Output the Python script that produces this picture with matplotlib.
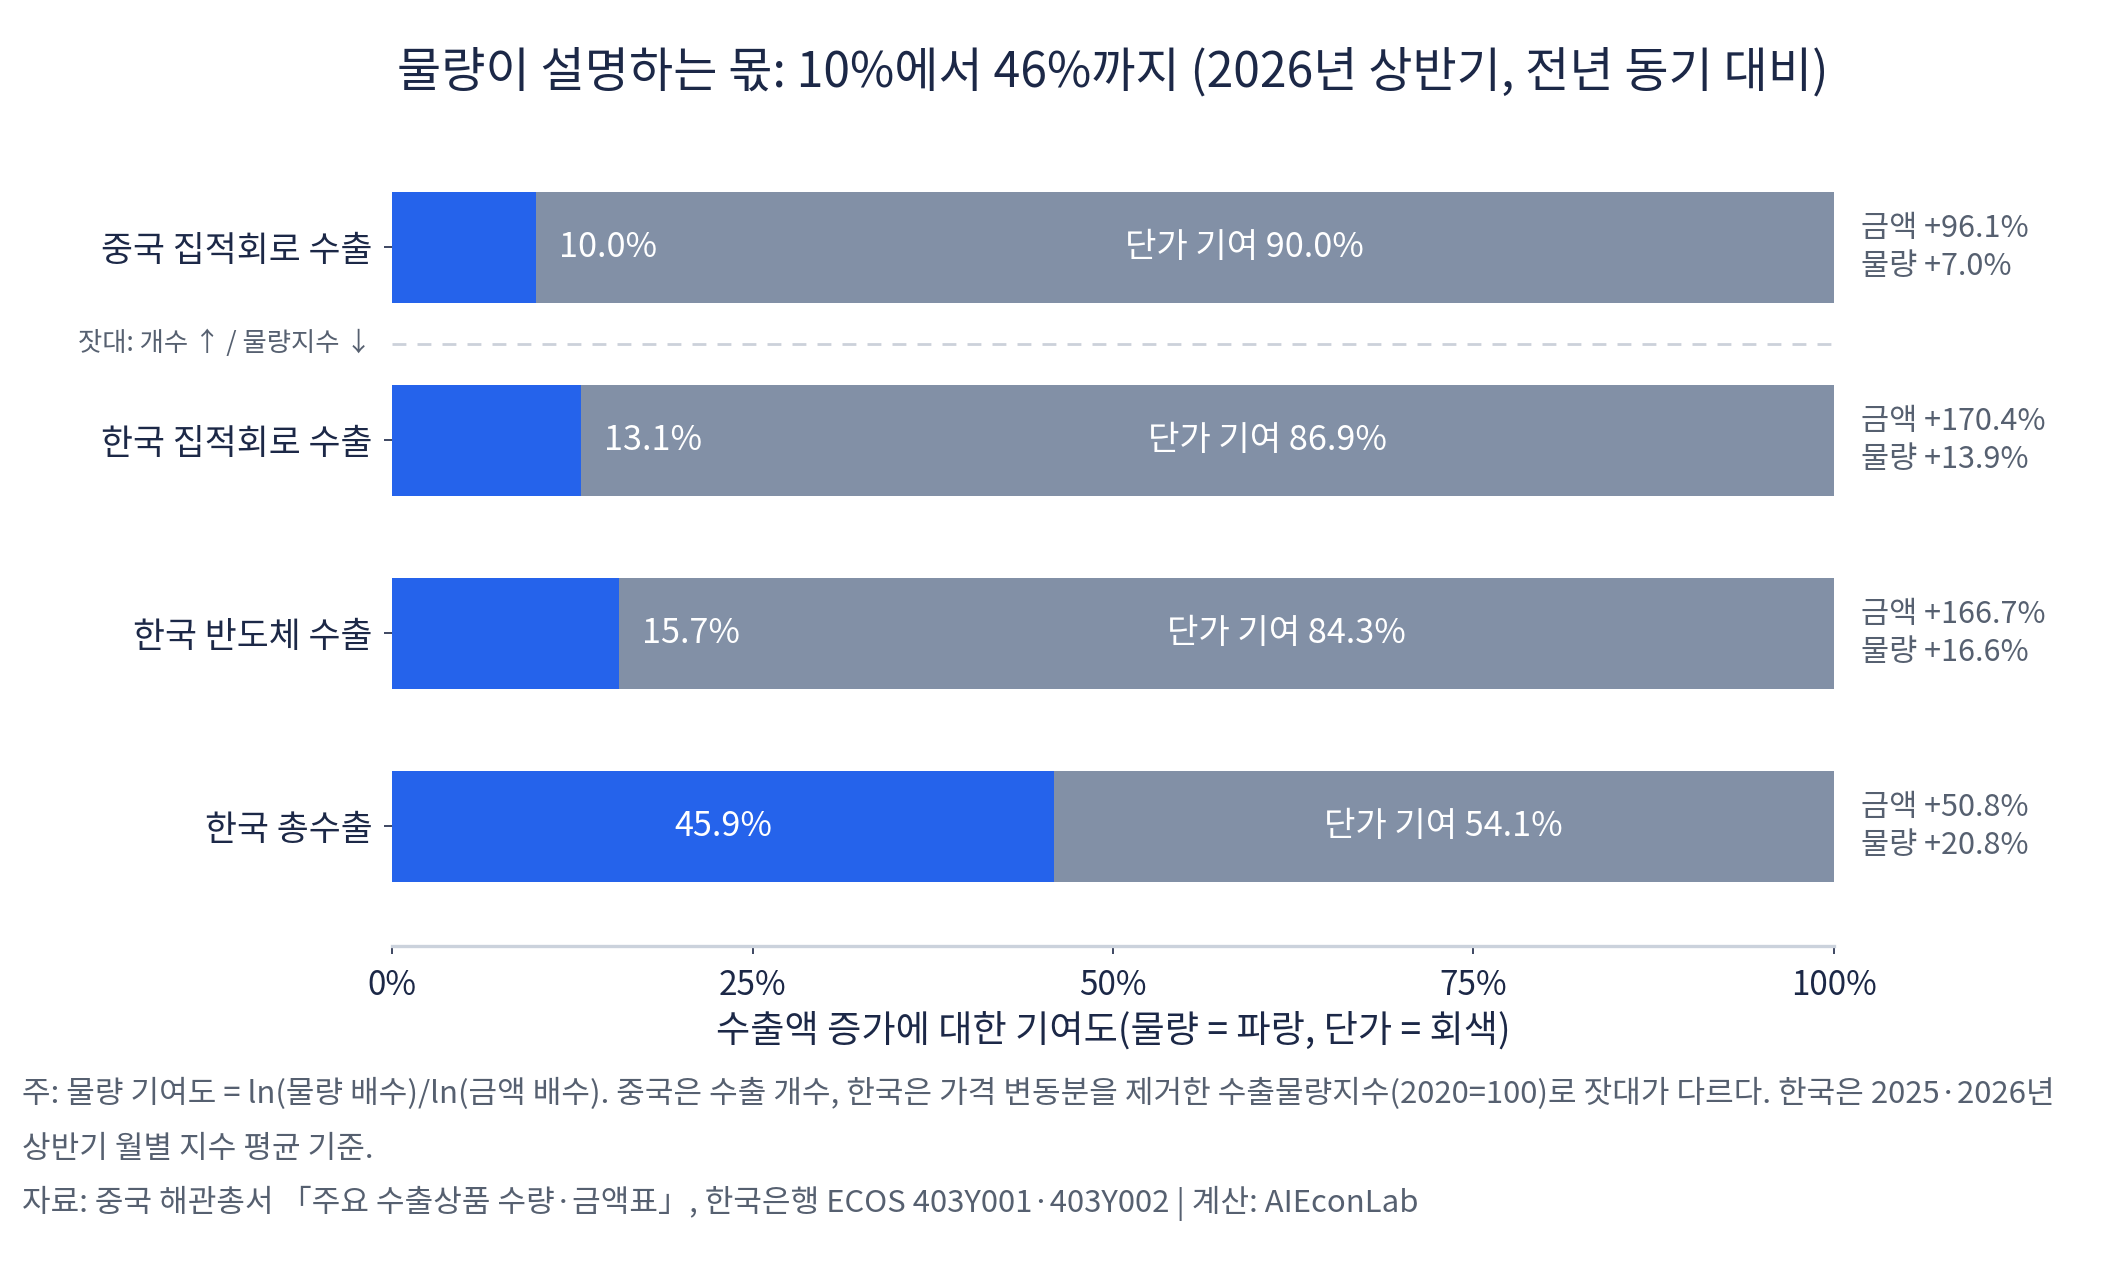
import numpy as np
import matplotlib
matplotlib.use("Agg")
import matplotlib.pyplot as plt
from matplotlib.ticker import FuncFormatter

plt.rcParams["font.family"] = ["Noto Sans CJK KR", "DejaVu Sans"]

# data
categories = ["중국 집적회로 수출", "한국 집적회로 수출", "한국 반도체 수출", "한국 총수출"]
volume_share = [10.0, 13.1, 15.7, 45.9]     # 물량 기여도 (%)
price_share = [90.0, 86.9, 84.3, 54.1]      # 단가 기여도 (%)
value_growth = [96.1, 170.4, 166.7, 50.8]   # 금액 증가율 (%)
volume_growth = [7.0, 13.9, 16.6, 20.8]     # 물량 증가율 (%)
x_ticks = [0, 25, 50, 75, 100]

BLUE = "#2563eb"
GREY = "#8290a6"
NAVY = "#1c2847"
MUTED = "#566070"

fig = plt.figure(figsize=(10.6, 6.4), dpi=200)
ax = fig.add_axes([0.185, 0.261, 0.68, 0.639])

y = np.arange(len(categories))
h = 0.575
ax.barh(y, volume_share, height=h, color=BLUE, zorder=2)
ax.barh(y, price_share, left=volume_share, height=h, color=GREY, zorder=2)

for i, (v, p) in enumerate(zip(volume_share, price_share)):
    if v >= 25:
        ax.text(v / 2, i, f"{v:.1f}%", ha="center", va="center",
                color="white", fontsize=12.3, zorder=3)
        gx = v + p / 2
    else:
        ax.text(v + 1.6, i, f"{v:.1f}%", ha="left", va="center",
                color="white", fontsize=12.3, zorder=3)
        gx = (v + 8.3 + 100) / 2
    ax.text(gx, i, f"단가 기여 {p:.1f}%", ha="center", va="center",
            color="white", fontsize=12.3, zorder=3)
    ax.text(101.9, i, f"금액 +{value_growth[i]:.1f}%\n물량 +{volume_growth[i]:.1f}%",
            ha="left", va="center", color=MUTED, fontsize=11, linespacing=1.3)

# separator between China (unit count) and Korea (volume index)
ax.plot([0, 100], [0.5, 0.5], color="#ccd1da", lw=1.0, ls=(0, (5, 4)), zorder=1)
ax.text(-0.014, 0.5, "잣대: 개수 ↑ / 물량지수 ↓", transform=ax.get_yaxis_transform(),
        ha="right", va="center", color=MUTED, fontsize=9.5)

ax.set_xlim(0, 100)
ax.set_ylim(3.62, -0.617)
ax.set_yticks(y)
ax.set_yticklabels(categories, fontsize=12.5, color=NAVY)
ax.set_xticks(x_ticks)
ax.xaxis.set_major_formatter(FuncFormatter(lambda v, _: f"{v:.0f}%"))
ax.tick_params(axis="x", labelsize=12, labelcolor=NAVY, color=NAVY, length=3, width=0.6, pad=5)
ax.tick_params(axis="y", color=NAVY, length=3, width=0.6, pad=4)
for s in ["top", "right", "left"]:
    ax.spines[s].set_visible(False)
ax.spines["bottom"].set_color("#cbd2dc")
ax.spines["bottom"].set_linewidth(1.2)
ax.set_xlabel("수출액 증가에 대한 기여도(물량 = 파랑, 단가 = 회색)", fontsize=13.4,
              color=NAVY, labelpad=3)

fig.text(0.525, 0.943, "물량이 설명하는 몫: 10%에서 46%까지 (2026년 상반기, 전년 동기 대비)",
         ha="center", va="center", fontsize=17.3, color=NAVY)

notes = [
    "주: 물량 기여도 = ln(물량 배수)/ln(금액 배수). 중국은 수출 개수, 한국은 가격 변동분을 제거한 수출물량지수(2020=100)로 잣대가 다르다. 한국은 2025·2026년",
    "상반기 월별 지수 평균 기준.",
    "자료: 중국 해관총서 「주요 수출상품 수량·금액표」, 한국은행 ECOS 403Y001·403Y002 | 계산: AIEconLab",
]
for yy, line in zip([0.145, 0.102, 0.060], notes):
    fig.text(0.0104, yy, line, ha="left", va="center", fontsize=11.2, color=MUTED)

fig.savefig("out.png", dpi=200, facecolor="white")
